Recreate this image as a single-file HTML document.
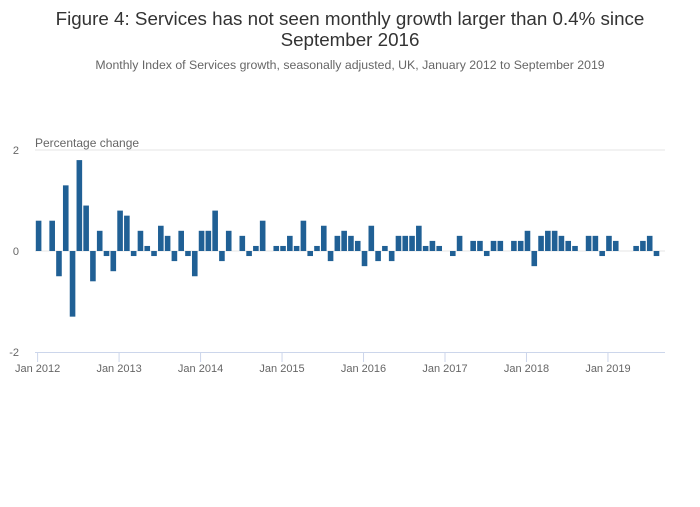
<!DOCTYPE html>
<html><head><meta charset="utf-8"><style>
body{margin:0;background:#fff;width:700px;height:502px;overflow:hidden;font-family:"Liberation Sans",sans-serif}
</style></head><body>
<svg width="700" height="502" xmlns="http://www.w3.org/2000/svg">
<text x="350" y="25" text-anchor="middle" font-size="18.8" fill="#333">Figure 4: Services has not seen monthly growth larger than 0.4% since</text>
<text x="350" y="46" text-anchor="middle" font-size="18.8" fill="#333">September 2016</text>
<text x="350" y="69" text-anchor="middle" font-size="12.3" fill="#666">Monthly Index of Services growth, seasonally adjusted, UK, January 2012 to September 2019</text>
<text x="35" y="147" font-size="12" fill="#666">Percentage change</text>
<g id="grid"></g><g id="bars"></g><g id="xaxis"></g>
</svg>
<script>
const yTicks=[2,0,-2];
const xLabels=["Jan 2012","Jan 2013","Jan 2014","Jan 2015","Jan 2016","Jan 2017","Jan 2018","Jan 2019"];
const values=[0.6,0,0.6,-0.5,1.3,-1.3,1.8,0.9,-0.6,0.4,-0.1,-0.4,
0.8,0.7,-0.1,0.4,0.1,-0.1,0.5,0.3,-0.2,0.4,-0.1,-0.5,
0.4,0.4,0.8,-0.2,0.4,0,0.3,-0.1,0.1,0.6,0,0.1,
0.1,0.3,0.1,0.6,-0.1,0.1,0.5,-0.2,0.3,0.4,0.3,0.2,
-0.3,0.5,-0.2,0.1,-0.2,0.3,0.3,0.3,0.5,0.1,0.2,0.1,
0,-0.1,0.3,0,0.2,0.2,-0.1,0.2,0.2,0,0.2,0.2,
0.4,-0.3,0.3,0.4,0.4,0.3,0.2,0.1,0,0.3,0.3,-0.1,
0.3,0.2,0,0,0.1,0.2,0.3,-0.1,0];
const NS="http://www.w3.org/2000/svg";
const y=v=>251-v*50.5;
const x=i=>38.6+i*6.79;
function mk(t,a,p){const e=document.createElementNS(NS,t);for(const k in a)e.setAttribute(k,a[k]);p.appendChild(e);return e;}
const grid=document.getElementById('grid'),bars=document.getElementById('bars'),xa=document.getElementById('xaxis');
yTicks.forEach(v=>{
 if(v!==-2){const l=mk('line',{x1:35,x2:665,y1:y(v),y2:y(v),stroke:'#e6e6e6','stroke-width':1},grid);
 
 }
 const t=mk('text',{x:19,y:y(v)+4,'text-anchor':'end','font-size':11,fill:'#666'},grid);t.textContent=v;
 
 
});
values.forEach((v,i)=>{
 const r=mk('rect',{x:x(i)-2.8,width:5.6,y:Math.min(y(v),y(0)),height:Math.abs(y(v)-y(0)),fill:'#206095'},bars);
 
 
});
const ax=mk('line',{x1:35,x2:665,y1:352.5,y2:352.5,stroke:'#ccd6eb','stroke-width':1},xa);


xLabels.forEach((s,k)=>{
 const xx=x(k*12)-1;
 const tk=mk('line',{x1:xx,x2:xx,y1:352,y2:362,stroke:'#ccd6eb'},xa);
 
 
 const t=mk('text',{x:xx,y:372,'text-anchor':'middle','font-size':11,fill:'#666'},xa);t.textContent=s;
 
 
});
</script>
</body></html>
